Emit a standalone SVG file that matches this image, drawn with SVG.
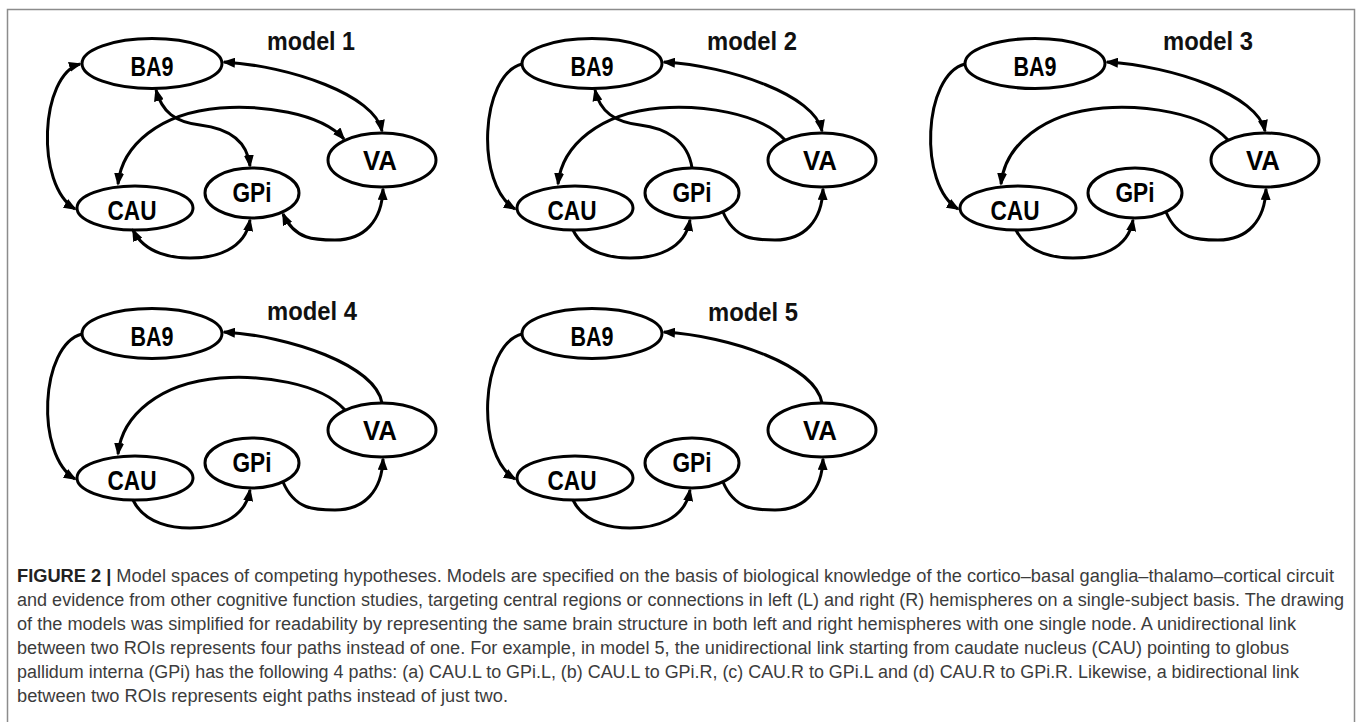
<svg xmlns="http://www.w3.org/2000/svg" width="1360" height="722" viewBox="0 0 1360 722">
<defs>
<marker id="ah" viewBox="0 0 13 10" refX="11" refY="5" markerWidth="13" markerHeight="10" markerUnits="userSpaceOnUse" orient="auto-start-reverse"><path d="M0,0 L13,5 L0,10 z" fill="#000"/></marker>
<style>
.node ellipse{fill:#fff;stroke:#000;stroke-width:3}
.node text{font-family:"Liberation Sans",Arial,sans-serif;font-weight:bold;font-size:27px;text-anchor:middle;fill:#000}
.edge{fill:none;stroke:#000;stroke-width:3}
.bi{marker-start:url(#ah);marker-end:url(#ah)}
.uni{marker-end:url(#ah)}
.title{font-family:"Liberation Sans",Arial,sans-serif;font-weight:bold;font-size:25px;fill:#111}
.cap{font-family:"Liberation Sans",Arial,sans-serif;font-size:18px;fill:#3c3c3c}
.capb{font-weight:bold;fill:#222}
</style>
</defs>
<rect x="7.5" y="9.5" width="1347" height="730" fill="#fff" stroke="#8c8c8c" stroke-width="1.5"/>

<g id="nodes">
<g id="model1" transform="translate(0,0)">
<text class="title" x="267" y="50" textLength="88" lengthAdjust="spacingAndGlyphs">model 1</text>
<g id="m1-BA9" class="node"><ellipse cx="152" cy="63.5" rx="70" ry="25"/><text x="152" y="76" textLength="43" lengthAdjust="spacingAndGlyphs">BA9</text></g>
<g id="m1-VA" class="node"><ellipse cx="382" cy="160" rx="54" ry="27"/><text x="380" y="170" textLength="34" lengthAdjust="spacingAndGlyphs">VA</text></g>
<g id="m1-GPi" class="node"><ellipse cx="252" cy="193" rx="47" ry="25"/><text x="252" y="202" textLength="39" lengthAdjust="spacingAndGlyphs">GPi</text></g>
<g id="m1-CAU" class="node"><ellipse cx="135" cy="208" rx="58" ry="22"/><text x="132" y="220" textLength="49" lengthAdjust="spacingAndGlyphs">CAU</text></g>
</g>
<g id="model2" transform="translate(440,0)">
<text class="title" x="267" y="50" textLength="90" lengthAdjust="spacingAndGlyphs">model 2</text>
<g id="m2-BA9" class="node"><ellipse cx="152" cy="63.5" rx="70" ry="25"/><text x="152" y="76" textLength="43" lengthAdjust="spacingAndGlyphs">BA9</text></g>
<g id="m2-VA" class="node"><ellipse cx="382" cy="160" rx="54" ry="27"/><text x="380" y="170" textLength="34" lengthAdjust="spacingAndGlyphs">VA</text></g>
<g id="m2-GPi" class="node"><ellipse cx="252" cy="193" rx="47" ry="25"/><text x="252" y="202" textLength="39" lengthAdjust="spacingAndGlyphs">GPi</text></g>
<g id="m2-CAU" class="node"><ellipse cx="135" cy="208" rx="58" ry="22"/><text x="132" y="220" textLength="49" lengthAdjust="spacingAndGlyphs">CAU</text></g>
</g>
<g id="model3" transform="translate(883,0)">
<text class="title" x="280" y="50" textLength="90" lengthAdjust="spacingAndGlyphs">model 3</text>
<g id="m3-BA9" class="node"><ellipse cx="152" cy="63.5" rx="70" ry="25"/><text x="152" y="76" textLength="43" lengthAdjust="spacingAndGlyphs">BA9</text></g>
<g id="m3-VA" class="node"><ellipse cx="382" cy="160" rx="54" ry="27"/><text x="380" y="170" textLength="34" lengthAdjust="spacingAndGlyphs">VA</text></g>
<g id="m3-GPi" class="node"><ellipse cx="252" cy="193" rx="47" ry="25"/><text x="252" y="202" textLength="39" lengthAdjust="spacingAndGlyphs">GPi</text></g>
<g id="m3-CAU" class="node"><ellipse cx="135" cy="208" rx="58" ry="22"/><text x="132" y="220" textLength="49" lengthAdjust="spacingAndGlyphs">CAU</text></g>
</g>
<g id="model4" transform="translate(0,270)">
<text class="title" x="267" y="50" textLength="90" lengthAdjust="spacingAndGlyphs">model 4</text>
<g id="m4-BA9" class="node"><ellipse cx="152" cy="63.5" rx="70" ry="25"/><text x="152" y="76" textLength="43" lengthAdjust="spacingAndGlyphs">BA9</text></g>
<g id="m4-VA" class="node"><ellipse cx="382" cy="160" rx="54" ry="27"/><text x="380" y="170" textLength="34" lengthAdjust="spacingAndGlyphs">VA</text></g>
<g id="m4-GPi" class="node"><ellipse cx="252" cy="193" rx="47" ry="25"/><text x="252" y="202" textLength="39" lengthAdjust="spacingAndGlyphs">GPi</text></g>
<g id="m4-CAU" class="node"><ellipse cx="135" cy="208" rx="58" ry="22"/><text x="132" y="220" textLength="49" lengthAdjust="spacingAndGlyphs">CAU</text></g>
</g>
<g id="model5" transform="translate(440,270)">
<text class="title" x="268" y="51" textLength="90" lengthAdjust="spacingAndGlyphs">model 5</text>
<g id="m5-BA9" class="node"><ellipse cx="152" cy="63.5" rx="70" ry="25"/><text x="152" y="76" textLength="43" lengthAdjust="spacingAndGlyphs">BA9</text></g>
<g id="m5-VA" class="node"><ellipse cx="382" cy="160" rx="54" ry="27"/><text x="380" y="170" textLength="34" lengthAdjust="spacingAndGlyphs">VA</text></g>
<g id="m5-GPi" class="node"><ellipse cx="252" cy="193" rx="47" ry="25"/><text x="252" y="202" textLength="39" lengthAdjust="spacingAndGlyphs">GPi</text></g>
<g id="m5-CAU" class="node"><ellipse cx="135" cy="208" rx="58" ry="22"/><text x="132" y="220" textLength="49" lengthAdjust="spacingAndGlyphs">CAU</text></g>
</g>
</g>

<g id="connectors">
<g id="edges-model1" transform="translate(0,0)">
<path class="edge bi" d="M 80,64 C 40,75 35,185 75,209"/>
<path class="edge bi" d="M 224,62 C 290,66 375,95 382,131"/>
<path class="edge bi" d="M 156,90 C 162,112 175,122 200,125 C 225,128 247,138 250,166"/>
<path class="edge bi" d="M 344,139 C 320,112 260,105 220,108 C 160,113 122,145 118,184"/>
<path class="edge bi" d="M 133,230 C 145,255 175,258 190,258 C 215,258 245,250 250,220"/>
<path class="edge bi" d="M 283,214 C 295,240 315,240 335,240 C 365,240 382,220 383,189"/>
</g>
<g id="edges-model2" transform="translate(440,0)">
<path class="edge uni" d="M 82,64 C 40,75 35,185 75,209"/>
<path class="edge bi" d="M 224,62 C 290,66 375,95 382,131"/>
<path class="edge uni" d="M 252,168 C 248,140 225,128 200,125 C 175,122 160,112 155,90"/>
<path class="edge uni" d="M 345,140 C 320,112 260,105 220,108 C 160,113 122,145 118,184"/>
<path class="edge uni" d="M 133,230 C 145,255 175,258 190,258 C 215,258 245,250 250,220"/>
<path class="edge uni" d="M 283,212 C 295,240 315,240 335,240 C 365,240 382,220 383,189"/>
</g>
<g id="edges-model3" transform="translate(883,0)">
<path class="edge uni" d="M 82,64 C 40,75 35,185 75,209"/>
<path class="edge bi" d="M 224,62 C 290,66 375,95 382,131"/>
<path class="edge uni" d="M 345,140 C 320,112 260,105 220,108 C 160,113 122,145 118,184"/>
<path class="edge uni" d="M 133,230 C 145,255 175,258 190,258 C 215,258 245,250 250,220"/>
<path class="edge uni" d="M 283,212 C 295,240 315,240 335,240 C 365,240 382,220 383,189"/>
</g>
<g id="edges-model4" transform="translate(0,270)">
<path class="edge uni" d="M 82,64 C 40,75 35,185 75,209"/>
<path class="edge uni" d="M 382,133 C 375,95 290,66 224,62"/>
<path class="edge uni" d="M 345,140 C 320,112 260,105 220,108 C 160,113 122,145 118,184"/>
<path class="edge uni" d="M 133,230 C 145,255 175,258 190,258 C 215,258 245,250 250,220"/>
<path class="edge uni" d="M 283,212 C 295,240 315,240 335,240 C 365,240 382,220 383,189"/>
</g>
<g id="edges-model5" transform="translate(440,270)">
<path class="edge uni" d="M 82,64 C 40,75 35,185 75,209"/>
<path class="edge uni" d="M 382,133 C 375,95 290,66 224,62"/>
<path class="edge uni" d="M 133,230 C 145,255 175,258 190,258 C 215,258 245,250 250,220"/>
<path class="edge uni" d="M 283,212 C 295,240 315,240 335,240 C 365,240 382,220 383,189"/>
</g>
</g>

<g id="caption" class="cap">
<text x="17" y="582" textLength="1317" lengthAdjust="spacingAndGlyphs"><tspan class="capb">FIGURE 2 |</tspan> Model spaces of competing hypotheses. Models are specified on the basis of biological knowledge of the cortico–basal ganglia–thalamo–cortical circuit</text>
<text x="17" y="606" textLength="1327" lengthAdjust="spacingAndGlyphs">and evidence from other cognitive function studies, targeting central regions or connections in left (L) and right (R) hemispheres on a single-subject basis. The drawing</text>
<text x="17" y="630" textLength="1279" lengthAdjust="spacingAndGlyphs">of the models was simplified for readability by representing the same brain structure in both left and right hemispheres with one single node. A unidirectional link</text>
<text x="17" y="654" textLength="1272" lengthAdjust="spacingAndGlyphs">between two ROIs represents four paths instead of one. For example, in model 5, the unidirectional link starting from caudate nucleus (CAU) pointing to globus</text>
<text x="17" y="678" textLength="1282" lengthAdjust="spacingAndGlyphs">pallidum interna (GPi) has the following 4 paths: (a) CAU.L to GPi.L, (b) CAU.L to GPi.R, (c) CAU.R to GPi.L and (d) CAU.R to GPi.R. Likewise, a bidirectional link</text>
<text x="17" y="702" textLength="491" lengthAdjust="spacingAndGlyphs">between two ROIs represents eight paths instead of just two.</text>
</g>
</svg>
